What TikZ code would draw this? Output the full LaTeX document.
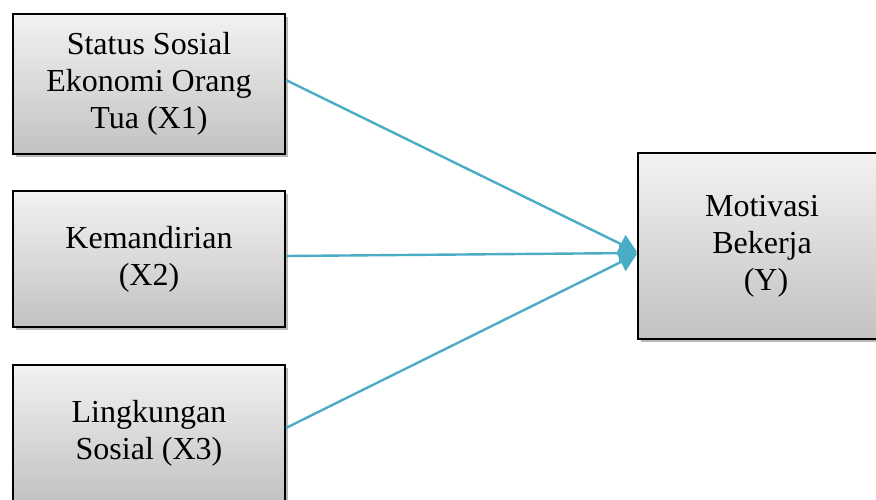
\documentclass[tikz,border=0pt]{standalone}
\usepackage{fontspec}
\setmainfont{Liberation Serif}
\usetikzlibrary{arrows.meta,shadows}
\definecolor{linkblue}{HTML}{4BACC6}
\definecolor{boxtop}{HTML}{F2F2F2}
\definecolor{boxbottom}{HTML}{C2C2C2}

\begin{document}
\begin{tikzpicture}[x=1pt,y=-1pt,
    varbox/.style={rectangle,draw=black,line width=1.8pt,
      top color=boxtop,bottom color=boxbottom,
      drop shadow={shadow xshift=3pt,shadow yshift=-3pt,fill=gray!55,opacity=1},
      align=center,inner sep=0pt,minimum width=272pt,
      font=\fontsize{32}{37}\selectfont},
    link/.style={draw=linkblue,line width=2.4pt,
      -{Triangle[length=18pt,width=20pt]}}]
  \useasboundingbox (0,0) rectangle (876,500);
  \node[varbox,minimum height=140pt] (x1) at (149,84) {Status Sosial\\Ekonomi Orang\\Tua (X1)};
  \node[varbox,minimum height=136pt] (x2) at (149,259) {Kemandirian\\(X2)};
  \node[varbox,minimum height=136pt] (x3) at (149,433) {Lingkungan\\Sosial (X3)};
  \node[varbox,minimum width=248pt,minimum height=186pt] (y) at (762,246) {Motivasi\\Bekerja\\\ (Y)};
  \draw[link] ([yshift=4pt]x1.east) -- ([yshift=-6pt]y.west);
  \draw[link] ([yshift=3pt]x2.east) -- ([yshift=-7pt]y.west);
  \draw[link] ([yshift=5pt]x3.east) -- ([yshift=-8pt]y.west);
\end{tikzpicture}
\end{document}
